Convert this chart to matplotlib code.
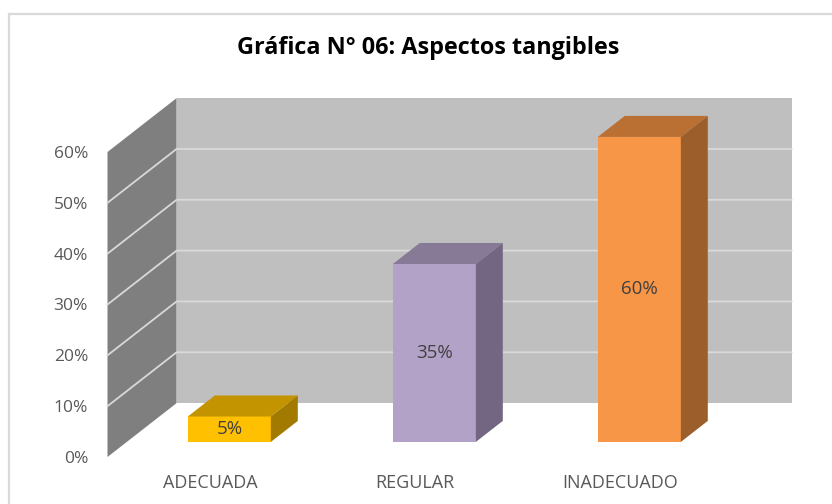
import matplotlib
matplotlib.use("Agg")
import matplotlib.pyplot as plt
from matplotlib.patches import Polygon, Rectangle

# ---- data ----
categories = ["ADECUADA", "REGULAR", "INADECUADO"]
values = [5, 35, 60]
bar_labels = ["5%", "35%", "60%"]
y_ticks = [0, 10, 20, 30, 40, 50, 60]
y_tick_labels = ["0%", "10%", "20%", "30%", "40%", "50%", "60%"]
title = "Gráfica N° 06: Aspectos tangibles"

# face colours: front, top, side
bar_colors = [
    ("#FFC000", "#C49300", "#A27A00"),
    ("#B3A2C7", "#877A96", "#726682"),
    ("#F79646", "#BA7033", "#9C5E2B"),
]

# ---- 3d look ----
DX = 0.337    # depth shift in category units (front wall -> back wall)
DY = 10.6     # depth shift in percent units
Z_FRONT = 0.28
Z_BACK = 0.67
BAR_W = 0.405
X0, X1 = -0.5, 2.5
YMAX = 60


def proj(x, y, z):
    return (x + z * DX, y + z * DY)


FONT = ["Open Sans", "DejaVu Sans"]
plt.rcParams["font.family"] = FONT

fig = plt.figure(figsize=(8.32, 5.04), dpi=100)
fig.patches.append(Rectangle((9 / 832, -0.1), 1.0, (504 - 14) / 504 + 0.1,
                             transform=fig.transFigure, fill=False,
                             edgecolor="#D9D9D9", linewidth=1.6))

ax = fig.add_axes([107.5 / 832, 47 / 504, 615 / 832, 305 / 504])
ax.set_xlim(X0, X1)
ax.set_ylim(0, YMAX)
for s in ax.spines.values():
    s.set_visible(False)

# back wall
back = [proj(X0, 0, 1), proj(X1, 0, 1), proj(X1, YMAX, 1), proj(X0, YMAX, 1)]
ax.add_patch(Polygon(back, closed=True, facecolor="#BFBFBF", edgecolor="none",
                     clip_on=False, zorder=1))
# side wall
side = [proj(X0, 0, 0), proj(X0, 0, 1), proj(X0, YMAX, 1), proj(X0, YMAX, 0)]
ax.add_patch(Polygon(side, closed=True, facecolor="#7F7F7F", edgecolor="none",
                     clip_on=False, zorder=1))

# gridlines on both walls
for t in y_ticks[1:-1]:
    a = proj(X0, t, 0)
    b = proj(X0, t, 1)
    c = proj(X1, t, 1)
    ax.plot([a[0], b[0], c[0]], [a[1], b[1], c[1]], color="#D9D9D9",
            linewidth=1.3, clip_on=False, zorder=2)

# bars
for i, (v, lab, cols) in enumerate(zip(values, bar_labels, bar_colors)):
    xl = i - BAR_W / 2
    xr = i + BAR_W / 2
    front = [proj(xl, 0, Z_FRONT), proj(xr, 0, Z_FRONT),
             proj(xr, v, Z_FRONT), proj(xl, v, Z_FRONT)]
    top = [proj(xl, v, Z_FRONT), proj(xr, v, Z_FRONT),
           proj(xr, v, Z_BACK), proj(xl, v, Z_BACK)]
    sidef = [proj(xr, 0, Z_FRONT), proj(xr, 0, Z_BACK),
             proj(xr, v, Z_BACK), proj(xr, v, Z_FRONT)]
    for poly, col in zip([front, top, sidef], cols):
        ax.add_patch(Polygon(poly, closed=True, facecolor=col, edgecolor="none",
                             clip_on=False, zorder=3))
    cx, cy = proj(i, v / 2, Z_FRONT)
    ax.text(cx, cy, lab, ha="center", va="center", fontsize=13.5,
            color="#404040", zorder=4)

ax.set_yticks(y_ticks)
ax.set_yticklabels(y_tick_labels)
ax.set_xticks(range(len(categories)))
ax.set_xticklabels(categories)
ax.tick_params(axis="y", length=0, pad=14, labelsize=12.5, labelcolor="#595959")
ax.tick_params(axis="x", length=0, pad=12, labelsize=13, labelcolor="#595959")

fig.text(428 / 832, 1 - 48 / 504, title, ha="center", va="center",
         fontsize=16.8, fontweight="bold", color="#000000")

fig.savefig("out.png", dpi=100)
